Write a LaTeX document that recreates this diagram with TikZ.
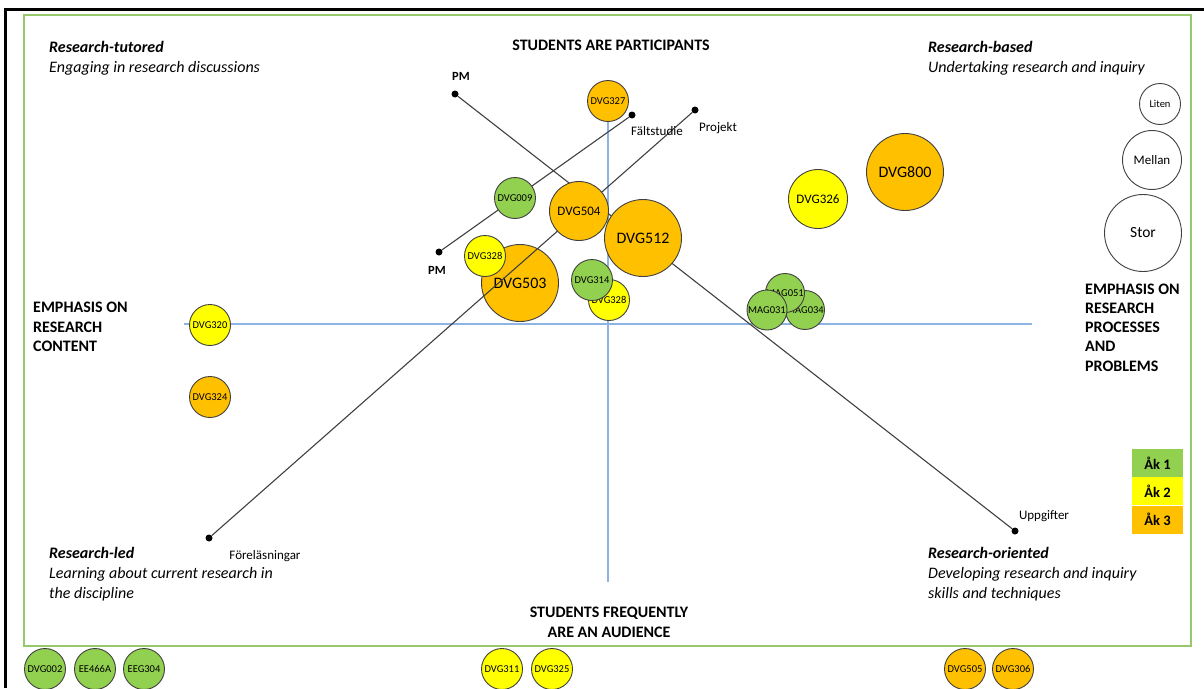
\documentclass[tikz,border=0pt]{standalone}
\usepackage{fontspec}
\setmainfont{Carlito}
\usetikzlibrary{positioning}
\definecolor{akgreen}{RGB}{146,208,80}
\definecolor{akyellow}{RGB}{255,255,0}
\definecolor{akorange}{RGB}{255,192,0}
\definecolor{axisblue}{RGB}{141,180,226}
\definecolor{ramgreen}{RGB}{150,200,110}
\tikzset{
  kurs/.style={circle, draw=black!75, line width=0.9pt, inner sep=0pt},
  liten/.style={kurs, minimum size=41pt, font=\fontsize{10.5}{11}\selectfont},
  mellan/.style={kurs, minimum size=59pt, font=\fontsize{13}{14}\selectfont},
  stor/.style={kurs, minimum size=77pt, font=\fontsize{16}{17}\selectfont},
  axel/.style={draw=axisblue, line width=1.2pt},
  linje/.style={draw=black!75, line width=1.1pt},
  punkt/.style={circle, fill=black, inner sep=0pt, minimum size=7pt},
  etikett/.style={font=\fontsize{13}{14}\selectfont},
  rubrik/.style={font=\fontsize{16}{19.7}\selectfont\bfseries, align=left, anchor=west, inner sep=0pt},
  hornrubrik/.style={font=\fontsize{16}{19.7}\selectfont\itshape, align=left, anchor=west, inner sep=0pt},
  akruta/.style={minimum width=51pt, minimum height=28pt, inner sep=0pt, font=\fontsize{14.5}{15}\selectfont\bfseries},
}
\begin{document}
\begin{tikzpicture}[x=1pt,y=-1pt]
    \useasboundingbox (0,0) rectangle (1204,688);
    \draw[line width=3pt] (5,688) -- (5,9) -- (1204,9);
    \draw[ramgreen, line width=2pt] (24,15) rectangle (1191,646);

    % axes
    \coordinate (vtop) at (608,100);
    \coordinate (vbot) at (608,582);
    \coordinate (hleft) at (184,324);
    \coordinate (hright) at (1032,324);
    \draw[axel] (vtop) -- (vbot);
    \draw[axel] (hleft) -- (hright);

    % corner and axis texts
    \node[hornrubrik] (tutored) at (49,58) {\textbf{Research-tutored}\\Engaging in research discussions};
    \node[hornrubrik] (based) at (928,58) {\textbf{Research-based}\\Undertaking research and inquiry};
    \node[hornrubrik] (led) at (49,574) {\textbf{Research-led}\\Learning about current research in\\the discipline};
    \node[hornrubrik] (oriented) at (928,574) {\textbf{Research-oriented}\\Developing research and inquiry\\skills and techniques};
    \node[rubrik, anchor=center] (participants) at (611,45) {STUDENTS ARE PARTICIPANTS};
    \node[rubrik, anchor=center, align=center] (audience) at (609,622) {STUDENTS FREQUENTLY\\ARE AN AUDIENCE};
    \node[rubrik] (content) at (33,327) {EMPHASIS ON\\RESEARCH\\CONTENT};
    \node[rubrik, font=\fontsize{16}{19.3}\selectfont\bfseries] (processes) at (1085,327.5) {EMPHASIS ON\\RESEARCH\\PROCESSES\\AND\\PROBLEMS};

    \node[stor, fill=akorange] (dvg503) at (520,283) {DVG503};

    % lines
    \node[punkt] (pmA) at (455,94) {};
    \node[punkt] (uppg) at (1015,531) {};
    \node[punkt] (pmB) at (439,252) {};
    \node[punkt] (falt) at (632,115) {};
    \node[punkt] (forel) at (209,538) {};
    \node[punkt] (projekt) at (695,110) {};
    \draw[linje] (pmA) -- (uppg);
    \draw[linje] (pmB) -- (falt);
    \draw[linje] (forel) -- (projekt);
    \node[etikett, font=\fontsize{12.5}{13}\selectfont\bfseries] at (461,76) {PM};
    \node[etikett, font=\fontsize{12.5}{13}\selectfont\bfseries] at (437,270) {PM};
    \node[etikett] at (657,131) {Fältstudie};
    \node[etikett] at (718,128) {Projekt};
    \node[etikett] at (1044,516) {Uppgifter};
    \node[etikett] at (265,556) {Föreläsningar};

    % courses
    \node[liten, fill=akorange] (dvg327) at (608,101) {DVG327};
    \node[liten, fill=akgreen] (dvg009) at (515,198) {DVG009};
    \node[mellan, fill=akorange] (dvg504) at (579,211) {DVG504};
    \node[stor, fill=akorange] (dvg512) at (643,238) {DVG512};
    \node[liten, fill=akyellow] (dvg328a) at (485,256) {DVG328};
    \node[liten, fill=akyellow] (dvg328b) at (609,300) {DVG328};
    \node[liten, fill=akgreen] (dvg314) at (592,280) {DVG314};
    \node[liten, fill=akyellow] (dvg320) at (210,325) {DVG320};
    \node[liten, fill=akorange] (dvg324) at (210,397) {DVG324};
    \node[mellan, fill=akyellow] (dvg326) at (818,199) {DVG326};
    \node[stor, fill=akorange] (dvg800) at (905,172) {DVG800};
    \node[liten, fill=akgreen, minimum size=39pt] (mag034) at (805,310) {MAG034};
    \node[liten, fill=akgreen, minimum size=39pt] (mag051) at (785,293) {MAG051};
    \node[liten, fill=akgreen, minimum size=40pt] (mag031) at (767,310) {MAG031};

    % outside the frame
    \node[liten, fill=akgreen] (dvg002) at (45,669) {DVG002};
    \node[liten, fill=akgreen] (ee466a) at (95,669) {EE466A};
    \node[liten, fill=akgreen] (eeg304) at (144,669) {EEG304};
    \node[liten, fill=akyellow] (dvg311) at (502,669) {DVG311};
    \node[liten, fill=akyellow] (dvg325) at (552,669) {DVG325};
    \node[liten, fill=akorange] (dvg505) at (965,669) {DVG505};
    \node[liten, fill=akorange] (dvg306) at (1013,669) {DVG306};

    % legend
    \node[kurs, fill=white, minimum size=41pt, font=\fontsize{10.5}{11}\selectfont] (liten) at (1160,104) {Liten};
    \node[mellan, fill=white] (mellan) at (1152,160) {Mellan};
    \node[stor, fill=white, font=\fontsize{15.5}{16}\selectfont] (stor) at (1143,233) {Stor};
    \node[akruta, fill=akgreen] (ak1) at (1157.5,463) {Åk 1};
    \node[akruta, fill=akyellow, below=0pt of ak1] (ak2) {Åk 2};
    \node[akruta, fill=akorange, below=0pt of ak2] (ak3) {Åk 3};
\end{tikzpicture}
\end{document}
